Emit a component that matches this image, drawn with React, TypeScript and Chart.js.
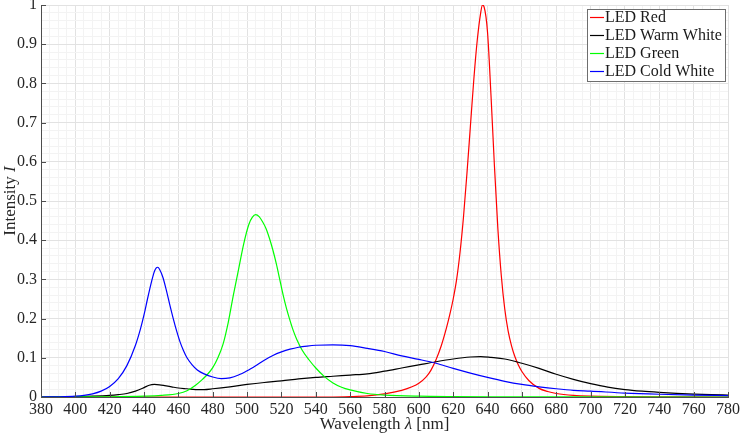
import { useEffect, useRef } from 'react';
import { Chart, registerables } from 'chart.js';

Chart.register(...registerables);

// ---- Data ----
const redWl = [380, 550, 560, 570, 580, 590, 596, 600, 604, 607, 610, 613, 616, 618, 620, 622, 624, 626, 628, 630, 632, 634, 636, 637, 638, 640, 642, 644, 646, 648, 650, 652, 654, 656, 658, 660, 664, 670, 675, 680, 690, 700, 720, 750, 780];
const redI = [0, 0, 0.001, 0.003, 0.008, 0.017, 0.026, 0.035, 0.05, 0.068, 0.095, 0.13, 0.175, 0.21, 0.25, 0.3, 0.37, 0.46, 0.57, 0.69, 0.81, 0.91, 0.98, 1.0, 0.995, 0.93, 0.77, 0.59, 0.43, 0.31, 0.225, 0.168, 0.13, 0.102, 0.081, 0.065, 0.042, 0.022, 0.014, 0.009, 0.004, 0.002, 0.001, 0.0005, 0];

const warmWl = [380, 400, 410, 420, 425, 430, 435, 440, 443, 446, 449, 452, 456, 460, 465, 470, 475, 480, 490, 500, 510, 520, 530, 540, 550, 560, 570, 580, 590, 600, 610, 620, 630, 636, 642, 650, 660, 670, 680, 690, 700, 710, 720, 730, 740, 750, 760, 770, 780];
const warmI = [0, 0.001, 0.002, 0.004, 0.006, 0.009, 0.015, 0.024, 0.03, 0.032, 0.031, 0.029, 0.026, 0.023, 0.021, 0.019, 0.019, 0.021, 0.026, 0.032, 0.037, 0.041, 0.046, 0.05, 0.053, 0.056, 0.059, 0.066, 0.074, 0.082, 0.09, 0.097, 0.102, 0.103, 0.101, 0.097, 0.086, 0.073, 0.058, 0.045, 0.034, 0.025, 0.019, 0.015, 0.012, 0.0095, 0.0075, 0.006, 0.005];

const greenWl = [380, 420, 440, 450, 460, 465, 470, 474, 477, 480, 483, 486, 489, 492, 495, 498, 501, 503, 505, 507, 509, 511, 513, 515, 517, 519, 521, 523, 525, 527, 529, 532, 536, 540, 545, 550, 555, 560, 570, 580, 600, 620, 650, 700, 780];
const greenI = [0, 0.0005, 0.002, 0.004, 0.009, 0.016, 0.03, 0.045, 0.058, 0.075, 0.1, 0.135, 0.19, 0.26, 0.325, 0.39, 0.44, 0.458, 0.465, 0.46, 0.447, 0.43, 0.405, 0.375, 0.34, 0.3, 0.26, 0.225, 0.195, 0.168, 0.146, 0.12, 0.095, 0.074, 0.052, 0.036, 0.025, 0.018, 0.009, 0.005, 0.002, 0.001, 0.0005, 0.0002, 0];

const coldWl = [380, 390, 400, 405, 410, 415, 420, 425, 430, 435, 438, 440, 442, 444, 445, 446, 447, 448, 449, 451, 453, 455, 457, 459, 461, 463, 465, 468, 471, 475, 480, 485, 490, 495, 500, 505, 510, 515, 520, 525, 530, 535, 540, 550, 560, 570, 580, 590, 600, 610, 620, 630, 640, 650, 660, 670, 680, 690, 700, 720, 740, 760, 780];
const coldI = [0, 0.0005, 0.002, 0.004, 0.008, 0.015, 0.027, 0.047, 0.08, 0.132, 0.175, 0.21, 0.25, 0.288, 0.305, 0.32, 0.329, 0.331, 0.326, 0.305, 0.272, 0.235, 0.2, 0.168, 0.14, 0.118, 0.1, 0.082, 0.069, 0.059, 0.051, 0.047, 0.049, 0.056, 0.067, 0.08, 0.094, 0.106, 0.115, 0.122, 0.127, 0.13, 0.132, 0.133, 0.131, 0.124, 0.116, 0.105, 0.096, 0.086, 0.073, 0.061, 0.05, 0.04, 0.032, 0.026, 0.021, 0.017, 0.015, 0.01, 0.007, 0.005, 0.0035];

const seriesNames = ['LED Red', 'LED Warm White', 'LED Green', 'LED Cold White'];
const seriesColors = ['#ff0000', '#000000', '#00ff00', '#0000ff'];

const xMin = 380, xMax = 780, xMajor = 20, xMinor = 5;
const yMin = 0, yMax = 1, yMajor = 0.1, yMinor = 0.02;

const xTitleParts = [['Wavelength ', false], ['λ', true], [' [nm]', false]] as [string, boolean][];
const yTitleParts = [['Intensity ', false], ['I', true]] as [string, boolean][];

const FONT = '"Liberation Serif", "Times New Roman", serif';

function toPts(wl: number[], v: number[]) {
  return wl.map((x, i) => ({ x, y: v[i] }));
}

const isMajorY = (v: number) => Math.abs(v / yMajor - Math.round(v / yMajor)) < 1e-6;
const isMajorX = (v: number) => Math.abs(v / xMajor - Math.round(v / xMajor)) < 1e-6;

const drawParts = (ctx: CanvasRenderingContext2D, parts: [string, boolean][], size: number) => {
  const fontOf = (it: boolean) => `${it ? 'italic ' : ''}${size}px ${FONT}`;
  let total = 0;
  const widths = parts.map(([t, it]) => {
    ctx.font = fontOf(it);
    const w = ctx.measureText(t).width;
    total += w;
    return w;
  });
  let x = -total / 2;
  parts.forEach(([t, it], i) => {
    ctx.font = fontOf(it);
    ctx.fillText(t, x, 0);
    x += widths[i];
  });
};

const decorPlugin = {
  id: 'decor',
  afterDraw(chart: any) {
    const { ctx, chartArea } = chart;
    const { left, right, top, bottom } = chartArea;
    const xs = chart.scales.x;
    const ys = chart.scales.y;
    ctx.save();
    // inward tick marks
    ctx.strokeStyle = '#4d4d4d';
    ctx.lineWidth = 1;
    ctx.beginPath();
    for (let v = xMin; v <= xMax + 1e-9; v += xMajor) {
      const px = Math.round(xs.getPixelForValue(v)) + 0.5;
      ctx.moveTo(px, bottom);
      ctx.lineTo(px, bottom - 5);
    }
    for (let k = 0; k <= Math.round((yMax - yMin) / yMajor); k++) {
      const py = Math.round(ys.getPixelForValue(yMin + k * yMajor)) + 0.5;
      ctx.moveTo(left, py);
      ctx.lineTo(left + 5, py);
    }
    ctx.stroke();

    // axis titles
    ctx.fillStyle = '#262626';
    ctx.textBaseline = 'middle';
    ctx.textAlign = 'left';
    ctx.save();
    ctx.translate((left + right) / 2, 425);
    drawParts(ctx, xTitleParts, 17);
    ctx.restore();
    ctx.save();
    ctx.translate(11, (top + bottom) / 2);
    ctx.rotate(-Math.PI / 2);
    drawParts(ctx, yTitleParts, 17);
    ctx.restore();

    // legend box
    const bx = 587.5, by = 9.5, bw = 138, bh = 72;
    ctx.fillStyle = '#ffffff';
    ctx.fillRect(bx, by, bw, bh);
    ctx.strokeStyle = '#6e6e6e';
    ctx.strokeRect(bx, by, bw, bh);
    ctx.font = `16px ${FONT}`;
    ctx.textBaseline = 'middle';
    seriesNames.forEach((name, i) => {
      const ry = 17.5 + i * 18;
      ctx.strokeStyle = seriesColors[i];
      ctx.lineWidth = 1.2;
      ctx.beginPath();
      ctx.moveTo(590, ry);
      ctx.lineTo(604, ry);
      ctx.stroke();
      ctx.fillStyle = '#1a1a1a';
      ctx.fillText(name, 605, ry);
    });
    ctx.restore();
  },
};

export default function App() {
  const ref = useRef<HTMLCanvasElement>(null);
  useEffect(() => {
    document.body.style.margin = '0';
    const canvas = ref.current;
    if (!canvas) return;
    const datasets = [
      toPts(redWl, redI),
      toPts(warmWl, warmI),
      toPts(greenWl, greenI),
      toPts(coldWl, coldI),
    ].map((data, i) => ({
      label: seriesNames[i],
      data,
      borderColor: seriesColors[i],
      backgroundColor: seriesColors[i],
      borderWidth: 1.2,
      pointRadius: 0,
      fill: false,
      cubicInterpolationMode: 'monotone' as const,
      order: 4 - i,
    }));
    const chart = new Chart(canvas, {
      type: 'line',
      data: { datasets },
      options: {
        animation: false,
        responsive: false,
        devicePixelRatio: 1,
        layout: { padding: { top: 5, right: 12, left: 0, bottom: 0 } },
        plugins: {
          legend: { display: false },
          tooltip: { enabled: false },
        },
        scales: {
          x: {
            type: 'linear',
            min: xMin,
            max: xMax,
            afterFit: (s: any) => {
              s.height = 39;
              s.paddingLeft = 0;
              s.paddingRight = 0;
            },
            ticks: {
              stepSize: xMinor,
              autoSkip: false,
              maxRotation: 0,
              minRotation: 0,
              padding: 3,
              color: '#262626',
              font: { family: FONT, size: 16 },
              callback: (v: any) => (isMajorX(Number(v)) ? String(Math.round(Number(v))) : ''),
            },
            grid: {
              drawTicks: false,
              lineWidth: 1,
              color: (c: any) => (c.tick && isMajorX(c.tick.value) ? '#e2e2e2' : '#f3f3f3'),
            },
            border: { display: true, color: '#4d4d4d', width: 1 },
          },
          y: {
            type: 'linear',
            min: yMin,
            max: yMax,
            afterFit: (s: any) => {
              s.width = 41;
              s.paddingTop = 0;
              s.paddingBottom = 0;
            },
            ticks: {
              stepSize: yMinor,
              autoSkip: false,
              padding: 4,
              color: '#262626',
              font: { family: FONT, size: 16 },
              callback: (v: any) => {
                const n = Number(v);
                if (!isMajorY(n)) return '';
                const r = Math.round(n * 10) / 10;
                return r === 0 ? '0' : r === 1 ? '1' : r.toFixed(1);
              },
            },
            grid: {
              drawTicks: false,
              lineWidth: 1,
              color: (c: any) => (c.tick && isMajorY(c.tick.value) ? '#e2e2e2' : '#f3f3f3'),
            },
            border: { display: true, color: '#4d4d4d', width: 1 },
          },
        },
      },
      plugins: [decorPlugin],
    });
    return () => chart.destroy();
  }, []);
  return <canvas ref={ref} width={740} height={436} style={{ display: 'block' }} />;
}
